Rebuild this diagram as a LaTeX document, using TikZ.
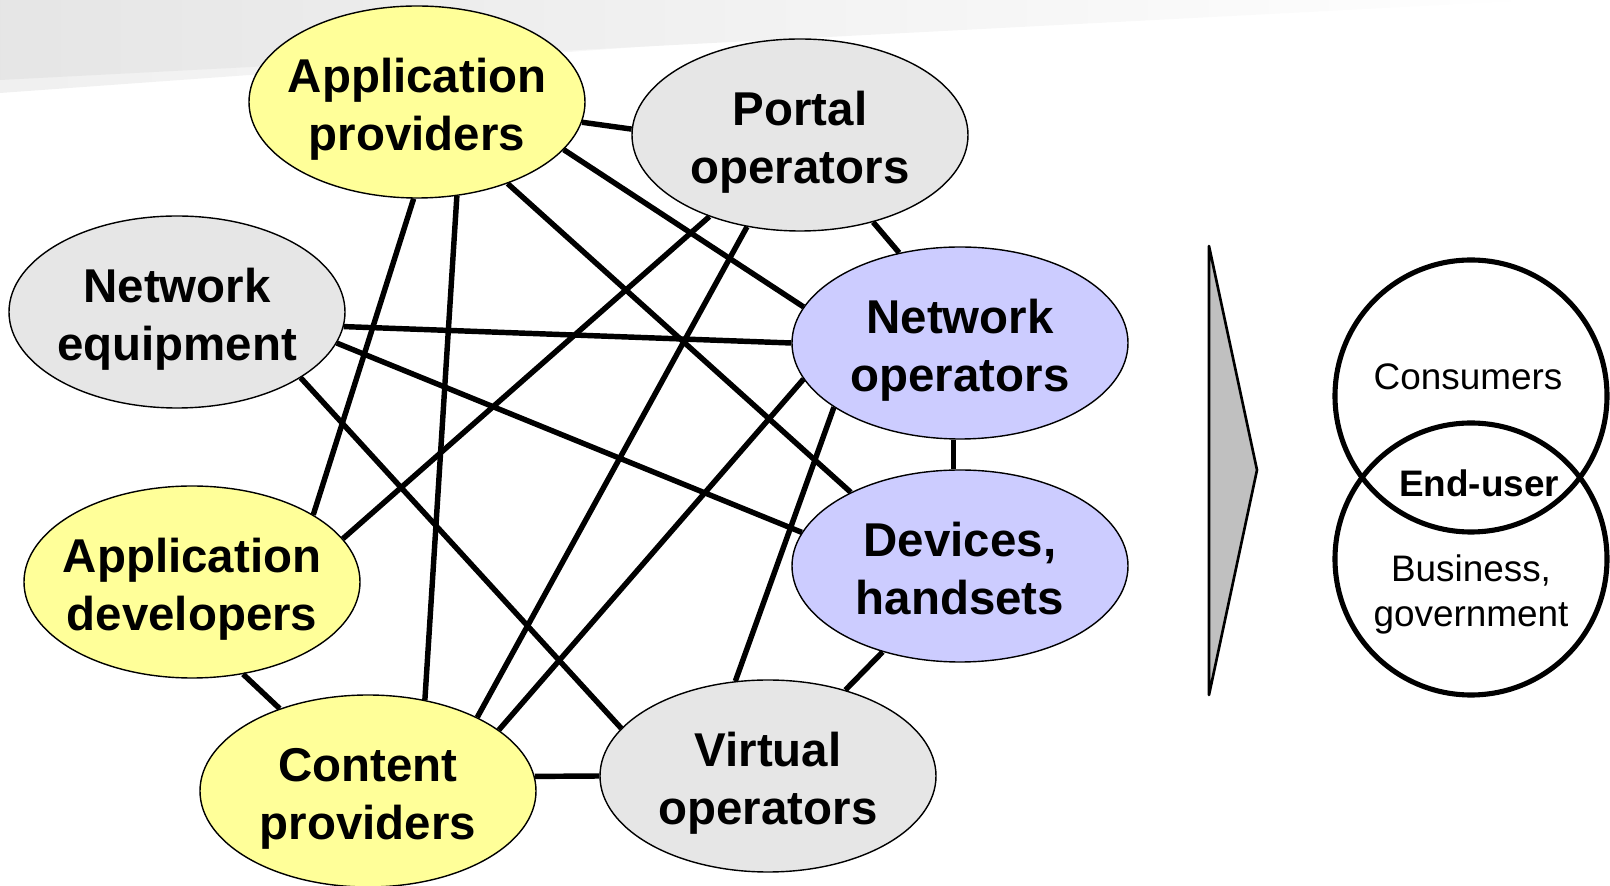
\documentclass[tikz,border=0pt]{standalone}
\usepackage{fontspec}
\setmainfont{Liberation Sans}
\usetikzlibrary{shapes.geometric}
\definecolor{apyellow}{RGB}{255,255,153}
\definecolor{opgray}{RGB}{230,230,230}
\definecolor{netblue}{RGB}{204,204,255}
\definecolor{arrowgray}{RGB}{192,192,192}

\begin{document}
\begin{tikzpicture}[
  actor/.style={ellipse, draw, line width=0.8pt, minimum width=6.72cm, minimum height=3.84cm,
    inner xsep=-0.6cm, inner ysep=0pt, text height=60pt, text depth=5pt,
    align=center, font=\bfseries\fontsize{27}{33}\selectfont},
  link/.style={line width=3.1pt},
  enduser/.style={circle, draw, line width=2.9pt, minimum size=5.44cm, inner sep=0pt},
  setlabel/.style={align=center, font=\fontsize{21}{25.6}\selectfont}
]
\useasboundingbox (0,0) rectangle (32.2,17.72);
% Background band
\shade[left color=black!6, right color=white] (0,17.72) -- (25.8,17.72) -- (0,15.86) -- cycle;
\shade[left color=black!10, right color=white] (0,17.72) -- (30.8,17.72) -- (0,16.12) -- cycle;
% Players
\node[actor, fill=apyellow] (appprov) at (8.34,15.68) {Application\\providers};
\node[actor, fill=opgray] (portal) at (16.00,15.02) {Portal\\operators};
\node[actor, fill=opgray] (neteq) at (3.54,11.48) {Network\\equipment};
\node[actor, fill=netblue] (netop) at (19.20,10.86) {Network\\operators};
\node[actor, fill=apyellow] (appdev) at (3.84,6.08) {Application\\developers};
\node[actor, fill=netblue] (devices) at (19.20,6.40) {Devices,\\handsets};
\node[actor, fill=apyellow] (content) at (7.36,1.90) {Content\\providers};
\node[actor, fill=opgray] (virtual) at (15.36,2.20) {Virtual\\operators};
% Links between players
\draw[link] (appprov.353) -- (portal.178);
\draw[link] (appprov.342) -- (netop.167);
\draw[link] (appprov.318) -- (devices.146);
\draw[link] (appprov.268) -- (appdev.29);
\draw[link] (appprov.293) -- (content.58);
\draw[link] (portal.310) -- (netop.124);
\draw[link] (portal.222) -- (appdev.16);
\draw[link] (portal.240) -- (content.34);
\draw[link] (neteq.355) -- (netop.180);
\draw[link] (neteq.349) -- (devices.168);
\draw[link] (neteq.332) -- (virtual.162);
\draw[link] (netop.266) -- (devices.94);
\draw[link] (netop.193) -- (content.25);
\draw[link] (netop.207) -- (virtual.109);
\draw[link] (devices.228) -- (virtual.48);
\draw[link] (appdev.299) -- (content.137);
\draw[link] (content.5) -- (virtual.180);
% Arrow
\filldraw[fill=arrowgray, line width=1.5pt, line join=round] (24.18,12.80) -- (25.14,8.32) -- (24.18,3.82) -- cycle;
% End-user sets
\node[enduser] (consumers) at (29.42,9.80) {};
\node[enduser] (business) at (29.42,6.54) {};
\node[setlabel] (conslabel) at (29.36,10.18) {Consumers};
\node[setlabel, font=\bfseries\fontsize{21}{25.6}\selectfont] (enduserlabel) at (29.58,8.06) {End-user};
\node[setlabel] (buslabel) at (29.42,5.84) {Business,\\government};
\end{tikzpicture}
\end{document}
